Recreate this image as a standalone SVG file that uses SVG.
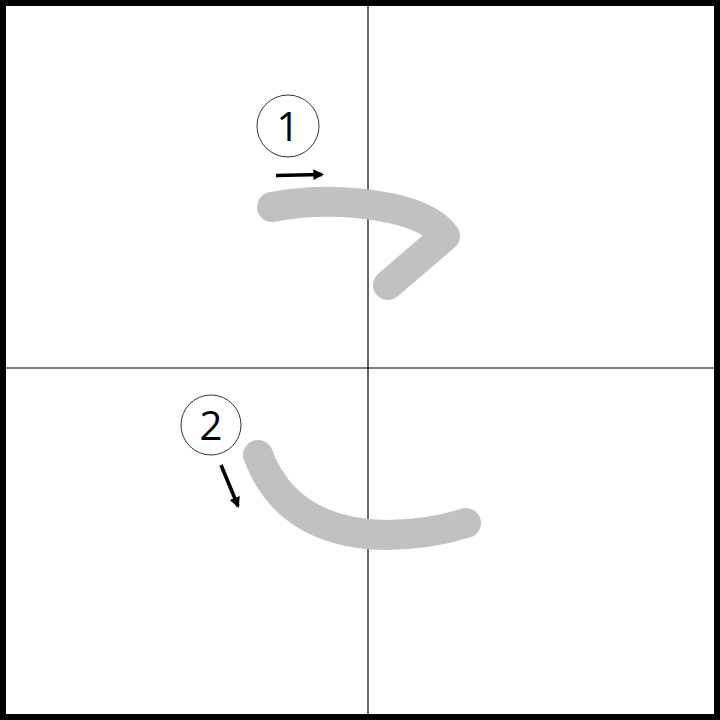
<svg xmlns="http://www.w3.org/2000/svg" width="720" height="720" viewBox="0 0 720 720">
<defs>
<style>
.grid{stroke:#000;stroke-width:1.2;fill:none}
.stroke{fill:none;stroke:#c2c0c1;stroke-width:30;stroke-linecap:round;stroke-linejoin:round}
.num{fill:none;stroke:#000;stroke-width:0.8}
.lbl{font-family:"Open Sans","DejaVu Sans",sans-serif;font-size:40px;fill:#000;text-anchor:middle}
.arr{stroke:#000;stroke-width:3.6;fill:none}
</style>
<marker id="ah" viewBox="0 0 10 10" refX="8" refY="5" markerWidth="3" markerHeight="3.4" orient="auto" markerUnits="strokeWidth">
<path d="M0,0 L10,5 L0,10 Z" fill="#000"/>
</marker>
</defs>
<rect x="0" y="0" width="720" height="720" fill="#fff"/>
<rect x="3" y="3" width="714" height="714" fill="none" stroke="#000" stroke-width="6"/>
<g id="grid">
<line class="grid" x1="368" y1="6" x2="368" y2="714"/>
<line class="grid" x1="6" y1="368" x2="714" y2="368"/>
</g>
<g id="stroke1">
<path class="stroke" d="M272,207 Q330,196 390,208 Q432,217 445,236 L388,285"/>
</g>
<g id="stroke2">
<path class="stroke" d="M258,455 Q287,533 385,535 Q428,535 466,523"/>
</g>
<g id="label1">
<circle class="num" cx="288" cy="126" r="31"/>
<text class="lbl" x="288" y="141">1</text>
</g>
<g id="label2">
<circle class="num" cx="211" cy="425" r="30"/>
<text class="lbl" x="211" y="440">2</text>
</g>
<g id="connectors">
<line class="arr" x1="276" y1="175.5" x2="322" y2="174.5" marker-end="url(#ah)"/>
<line class="arr" x1="221" y1="465" x2="238" y2="506" marker-end="url(#ah)"/>
</g>
</svg>
